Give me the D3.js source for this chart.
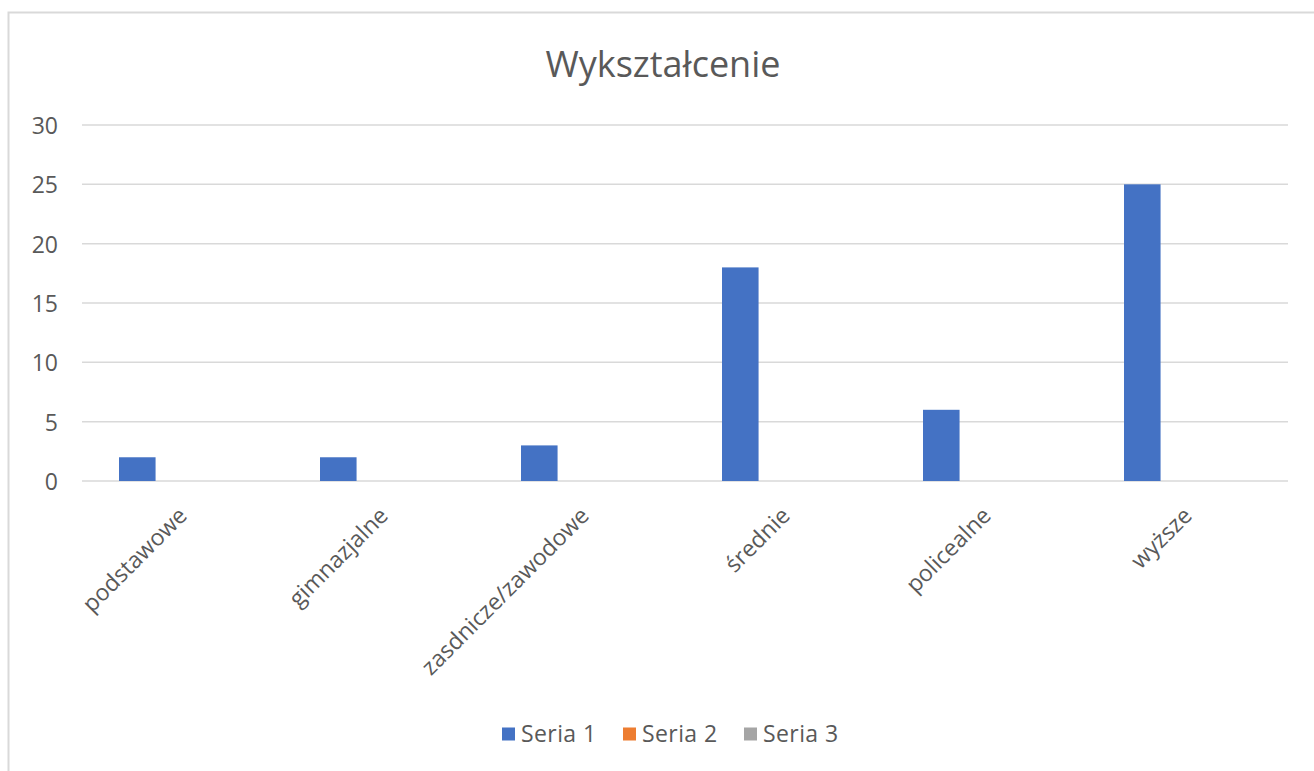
<!DOCTYPE html>
<html>
<head>
<meta charset="utf-8">
<script src="https://cdn.jsdelivr.net/npm/d3@7"></script>
<style>
  body { margin: 0; background: #fff; }
  svg { display: block; font-family: "Open Sans", sans-serif; }
</style>
</head>
<body>
<svg id="chart" width="1314" height="771"></svg>
<script>
// data
const categories = ["podstawowe", "gimnazjalne", "zasdnicze/zawodowe", "średnie", "policealne", "wyższe"];
const seriesNames = ["Seria 1", "Seria 2", "Seria 3"];
const seria1 = [2, 2, 3, 18, 6, 25];
const seria2 = [0, 0, 0, 0, 0, 0];
const seria3 = [0, 0, 0, 0, 0, 0];
const yTicks = [0, 5, 10, 15, 20, 25, 30];
const colors = ["#4472C4", "#ED7D31", "#A5A5A5"];

const seriesValues = [seria1, seria2, seria3];
const rows = categories.map((c, i) => ({cat: c, vals: seriesNames.map((s, j) => ({s: s, v: seriesValues[j][i]}))}));

const svg = d3.select("#chart");

// chart frame
svg.append("rect")
  .attr("x", 8.5).attr("y", 12.5)
  .attr("width", 1400).attr("height", 900)
  .attr("fill", "none").attr("stroke", "#d9d9d9").attr("stroke-width", 2);

const plotLeft = 82, plotRight = 1288, plotTop = 125, plotBottom = 481;

var y = d3.scaleLinear().domain([0, 30]).range([plotBottom, plotTop]);
var x0 = d3.scaleBand().domain(categories).range([plotLeft, plotRight]).padding(0);
var x1 = d3.scaleBand().domain(seriesNames).range([37, 165]).paddingInner(0.2);

// gridlines
svg.append("g")
  .selectAll("line")
  .data(yTicks)
  .join("line")
  .attr("x1", plotLeft).attr("x2", plotRight)
  .attr("y1", d => y(d)).attr("y2", d => y(d))
  .attr("stroke", "#d9d9d9").attr("stroke-width", 1.5);

// y axis labels
svg.append("g")
  .attr("transform", `translate(${plotLeft - 24},1)`)
  .call(d3.axisLeft(y).tickValues(yTicks).tickSize(0).tickPadding(0))
  .call(g => g.select(".domain").remove())
  .call(g => g.selectAll("text").attr("fill", "#595959").attr("font-size", 23).attr("font-family", "Open Sans"));

// bars
svg.append("g")
  .selectAll("g")
  .data(rows)
  .join("g")
  .attr("transform", d => `translate(${x0(d.cat)},0)`)
  .selectAll("rect")
  .data(d => d.vals)
  .join("rect")
  .attr("x", d => x1(d.s))
  .attr("width", x1.bandwidth())
  .attr("y", d => y(d.v))
  .attr("height", d => y(0) - y(d.v))
  .attr("fill", (d, i) => colors[i]);

// x axis labels
svg.append("g")
  .selectAll("text")
  .data(categories)
  .join("text")
  .attr("transform", d => `translate(${x0(d) + x0.bandwidth() / 2 + 6},${plotBottom + 36}) rotate(-45)`)
  .attr("text-anchor", "end")
  .attr("fill", "#595959")
  .attr("font-size", 23)
  .text(d => d);

// title
svg.append("text")
  .attr("x", 663).attr("y", 77)
  .attr("text-anchor", "middle")
  .attr("fill", "#595959")
  .attr("font-size", 36)
  .text("Wykształcenie");

// legend
const legendX = [502, 623, 744];
const legend = svg.append("g")
  .selectAll("g")
  .data(seriesNames)
  .join("g")
  .attr("transform", (d, i) => `translate(${legendX[i]},734)`);
legend.append("rect")
  .attr("x", 0).attr("y", -6.5).attr("width", 13).attr("height", 13)
  .attr("fill", (d, i) => colors[i]);
legend.append("text")
  .attr("x", 19).attr("y", 8)
  .attr("fill", "#595959")
  .attr("font-size", 23)
  .attr("letter-spacing", 0.4)
  .text(d => d);
</script>
</body>
</html>
